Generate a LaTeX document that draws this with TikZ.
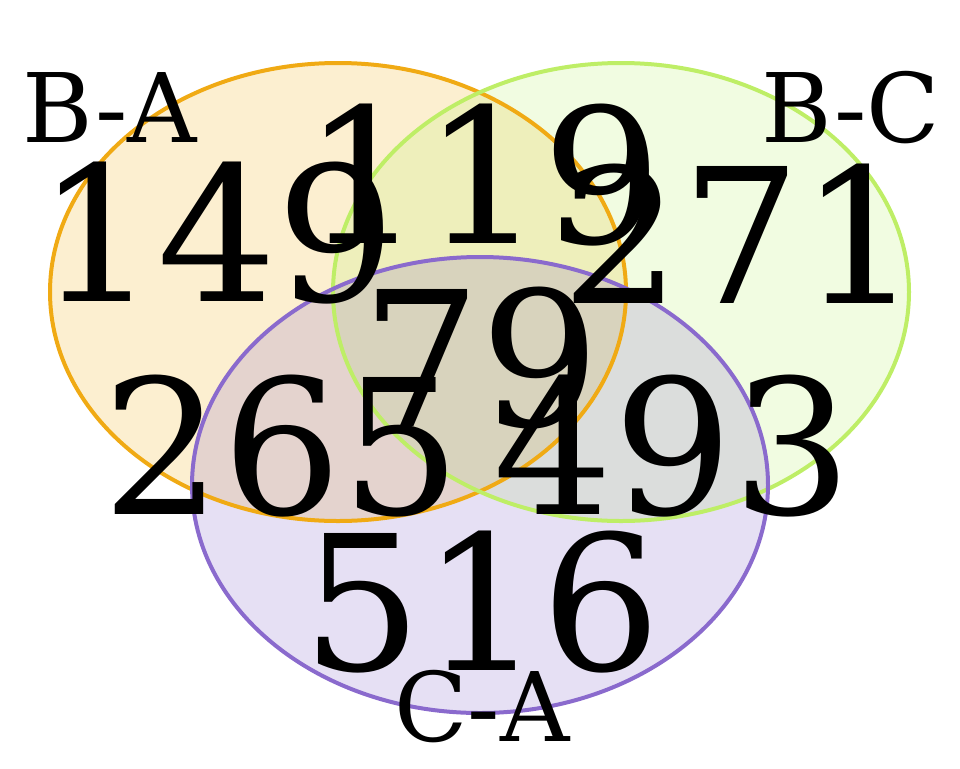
\documentclass[tikz,border=0pt]{standalone}
\usepackage{fontspec}
\setmainfont{DejaVu Serif}
\definecolor{ecA}{HTML}{F0AA14}
\definecolor{fcA}{HTML}{F0AF14}
\definecolor{ecB}{HTML}{BEEE66}
\definecolor{fcB}{HTML}{B9F069}
\definecolor{ecC}{HTML}{8A6ACD}
\definecolor{fcC}{HTML}{8264C8}
\tikzset{
  setfill/.style={fill opacity=0.2},
  setedge/.style={line width=3pt},
  count/.style={inner sep=0pt, anchor=center, font=\fontsize{141}{142}\selectfont},
  setlabel/.style={inner sep=0pt, anchor=center, font=\fontsize{72}{73}\selectfont}
}
\begin{document}
\begin{tikzpicture}[x=0.75pt,y=-0.75pt]
\useasboundingbox (0,0) rectangle (960,768);
\path[setfill, fill=fcA] (338,292) ellipse [x radius=288, y radius=229];
\path[setfill, fill=fcB] (621,292) ellipse [x radius=288, y radius=229];
\path[setfill, fill=fcC] (480,485) ellipse [x radius=288, y radius=228];
\draw[setedge, ecA] (338,292) ellipse [x radius=288, y radius=229];
\draw[setedge, ecB] (621,292) ellipse [x radius=288, y radius=229];
\draw[setedge, ecC] (480,485) ellipse [x radius=288, y radius=228];
\node[count] (nA) at (217,233) {149};
\node[count] (nAB) at (483,175) {119};
\node[count] (nB) at (741,234) {271};
\node[count] (nABC) at (481,358) {79};
\node[count] (nAC) at (282,446) {265};
\node[count] (nBC) at (673,446) {493};
\node[count] (nC) at (482,602) {516};
\node[setlabel] (lA) at (110,108) {B-A};
\node[setlabel] (lB) at (851,108) {B-C};
\node[setlabel] (lC) at (482,707) {C-A};
\end{tikzpicture}
\end{document}
